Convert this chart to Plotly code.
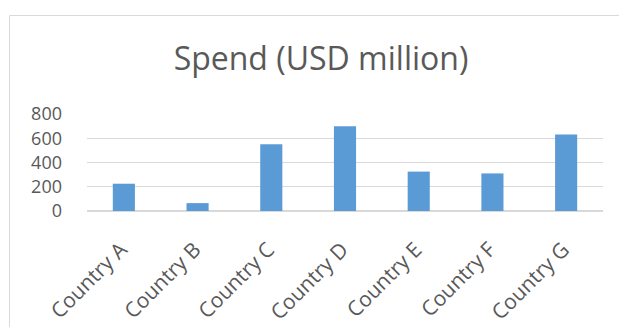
import plotly.graph_objects as go

countries = ["Country A", "Country B", "Country C", "Country D", "Country E", "Country F", "Country G"]
spend = [225, 65, 550, 700, 325, 310, 630]
y_ticks = [0, 200, 400, 600, 800]

W, H = 619, 327
L, R, T, B = 87, 16, 114, 116
pw, ph = W - L - R, H - T - B

def px_x(x):
    return (x - L) / pw

def px_y(y):
    return 1 - (y - T) / ph

fig = go.Figure(go.Bar(x=countries, y=spend, marker=dict(color="#5b9bd5", line=dict(width=0)), hoverinfo="x+y"))

fig.update_layout(
    width=W, height=H,
    margin=dict(l=L, r=R, t=T, b=B, autoexpand=False),
    paper_bgcolor="white", plot_bgcolor="white",
    bargap=0.7,
    showlegend=False,
    font=dict(family="Open Sans", color="#595959"),
    title=dict(text="Spend (USD million)", x=px_x(321), xref="paper", xanchor="center",
               y=1 - 59 / H, yref="container", yanchor="middle",
               font=dict(size=32, family="Open Sans", color="#595959")),
    xaxis=dict(tickangle=-45, tickfont=dict(size=21, color="#595959"), showgrid=False,
               showline=True, linecolor="#d9d9d9", linewidth=1, ticks="", automargin=False,
               ticklabelstandoff=17, ticklabelshift=-3),
    yaxis=dict(range=[0, 800], tickvals=y_ticks, tickfont=dict(size=18, color="#595959"),
               showgrid=True, gridcolor="#d9d9d9", gridwidth=1, zeroline=True, automargin=False,
               zerolinecolor="#d9d9d9", showline=False, ticks="", ticklabelstandoff=24),
    shapes=[dict(type="rect", xref="paper", yref="paper",
                 x0=px_x(9.5), x1=px_x(640), y0=px_y(345), y1=px_y(15.5),
                 line=dict(color="#d9d9d9", width=1), fillcolor="rgba(0,0,0,0)", layer="below")],
)

fig.write_html("out.html")
